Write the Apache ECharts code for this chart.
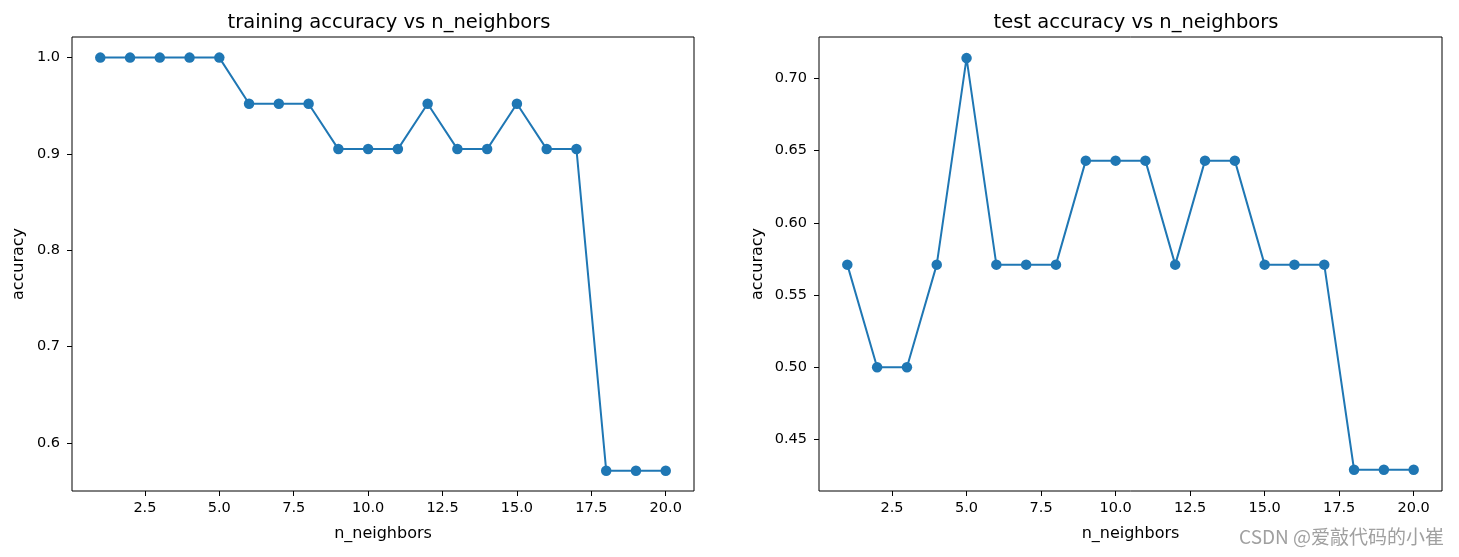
<!DOCTYPE html>
<html><head><meta charset="utf-8">
<script src="https://cdn.jsdelivr.net/npm/echarts@6/dist/echarts.min.js"></script>
<style>html,body{margin:0;padding:0;background:#fff}#c{width:1459px;height:557px}</style>
</head><body><div id="c"></div>
<script>
const neighbors = [1,2,3,4,5,6,7,8,9,10,11,12,13,14,15,16,17,18,19,20];
const trainAcc = [1.0,1.0,1.0,1.0,1.0,0.952,0.952,0.952,0.905,0.905,0.905,0.952,0.905,0.905,0.952,0.905,0.905,0.571,0.571,0.571];
const testAcc = [0.571,0.5,0.5,0.571,0.714,0.571,0.571,0.571,0.643,0.643,0.643,0.571,0.643,0.643,0.571,0.571,0.571,0.429,0.429,0.429];
const xTicks = [2.5,5.0,7.5,10.0,12.5,15.0,17.5,20.0];
const yTicksTrain = [0.6,0.7,0.8,0.9,1.0];
const yTicksTest = [0.45,0.50,0.55,0.60,0.65,0.70];
const titles = ['training accuracy vs n_neighbors','test accuracy vs n_neighbors'];

const FONT = 'DejaVu Sans';
const chart = echarts.init(document.getElementById('c'));
function xAxis(i){
  return {type:'value',gridIndex:i,min:0.05,max:20.95,
    name:'n_neighbors',nameLocation:'middle',nameGap:35,
    nameTextStyle:{fontFamily:FONT,fontSize:16,color:'#000'},
    axisLine:{show:false},splitLine:{show:false},
    axisTick:{show:true,customValues:xTicks,length:5,inside:false,lineStyle:{color:'#000',width:1}},
    axisLabel:{customValues:xTicks,fontFamily:FONT,fontSize:14.5,color:'#000',margin:10,formatter:v=>v.toFixed(1)}};
}
function yAxis(i,min,max,ticks,dec,gap){
  return {type:'value',gridIndex:i,min:min,max:max,
    name:'accuracy',nameLocation:'middle',nameGap:gap,nameRotate:90,
    nameTextStyle:{fontFamily:FONT,fontSize:16,color:'#000'},
    axisLine:{show:false},splitLine:{show:false},
    axisTick:{show:true,customValues:ticks,length:5,lineStyle:{color:'#000',width:1}},
    axisLabel:{customValues:ticks,fontFamily:FONT,fontSize:14.5,color:'#000',margin:12,formatter:v=>v.toFixed(dec)}};
}
function toPairs(arr){return neighbors.map((n,i)=>[n,arr[i]]);}
const lineStyle={color:'#1f77b4',width:2};
chart.setOption({
  animation:false,
  title:[
    {text:titles[0],left:384,top:8,textAlign:'center',textStyle:{fontFamily:FONT,fontSize:19.5,fontWeight:'normal',color:'#000'}},
    {text:titles[1],left:1131,top:8,textAlign:'center',textStyle:{fontFamily:FONT,fontSize:19.5,fontWeight:'normal',color:'#000'}}
  ],
  grid:[
    {left:72,width:622,top:37,height:454,show:true,borderColor:'#000',borderWidth:1,backgroundColor:'#fff'},
    {left:819,width:623,top:37,height:454,show:true,borderColor:'#000',borderWidth:1,backgroundColor:'#fff'}
  ],
  xAxis:[xAxis(0),xAxis(1)],
  yAxis:[yAxis(0,0.5499,1.0214,yTicksTrain,1,45),yAxis(1,0.4143,0.7286,yTicksTest,2,53)],
  series:[
    {type:'line',xAxisIndex:0,yAxisIndex:0,data:toPairs(trainAcc),symbol:'circle',symbolSize:10.5,
      lineStyle:lineStyle,itemStyle:{color:'#1f77b4'}},
    {type:'line',xAxisIndex:1,yAxisIndex:1,data:toPairs(testAcc),symbol:'circle',symbolSize:10.5,
      lineStyle:lineStyle,itemStyle:{color:'#1f77b4'}}
  ],
  graphic:[{type:'text',right:15,top:527,style:{text:'CSDN @爱敲代码的小崔',fontFamily:'Noto Sans CJK SC',fontSize:19,fill:'#a0a0a0'}}]
});
</script></body></html>
